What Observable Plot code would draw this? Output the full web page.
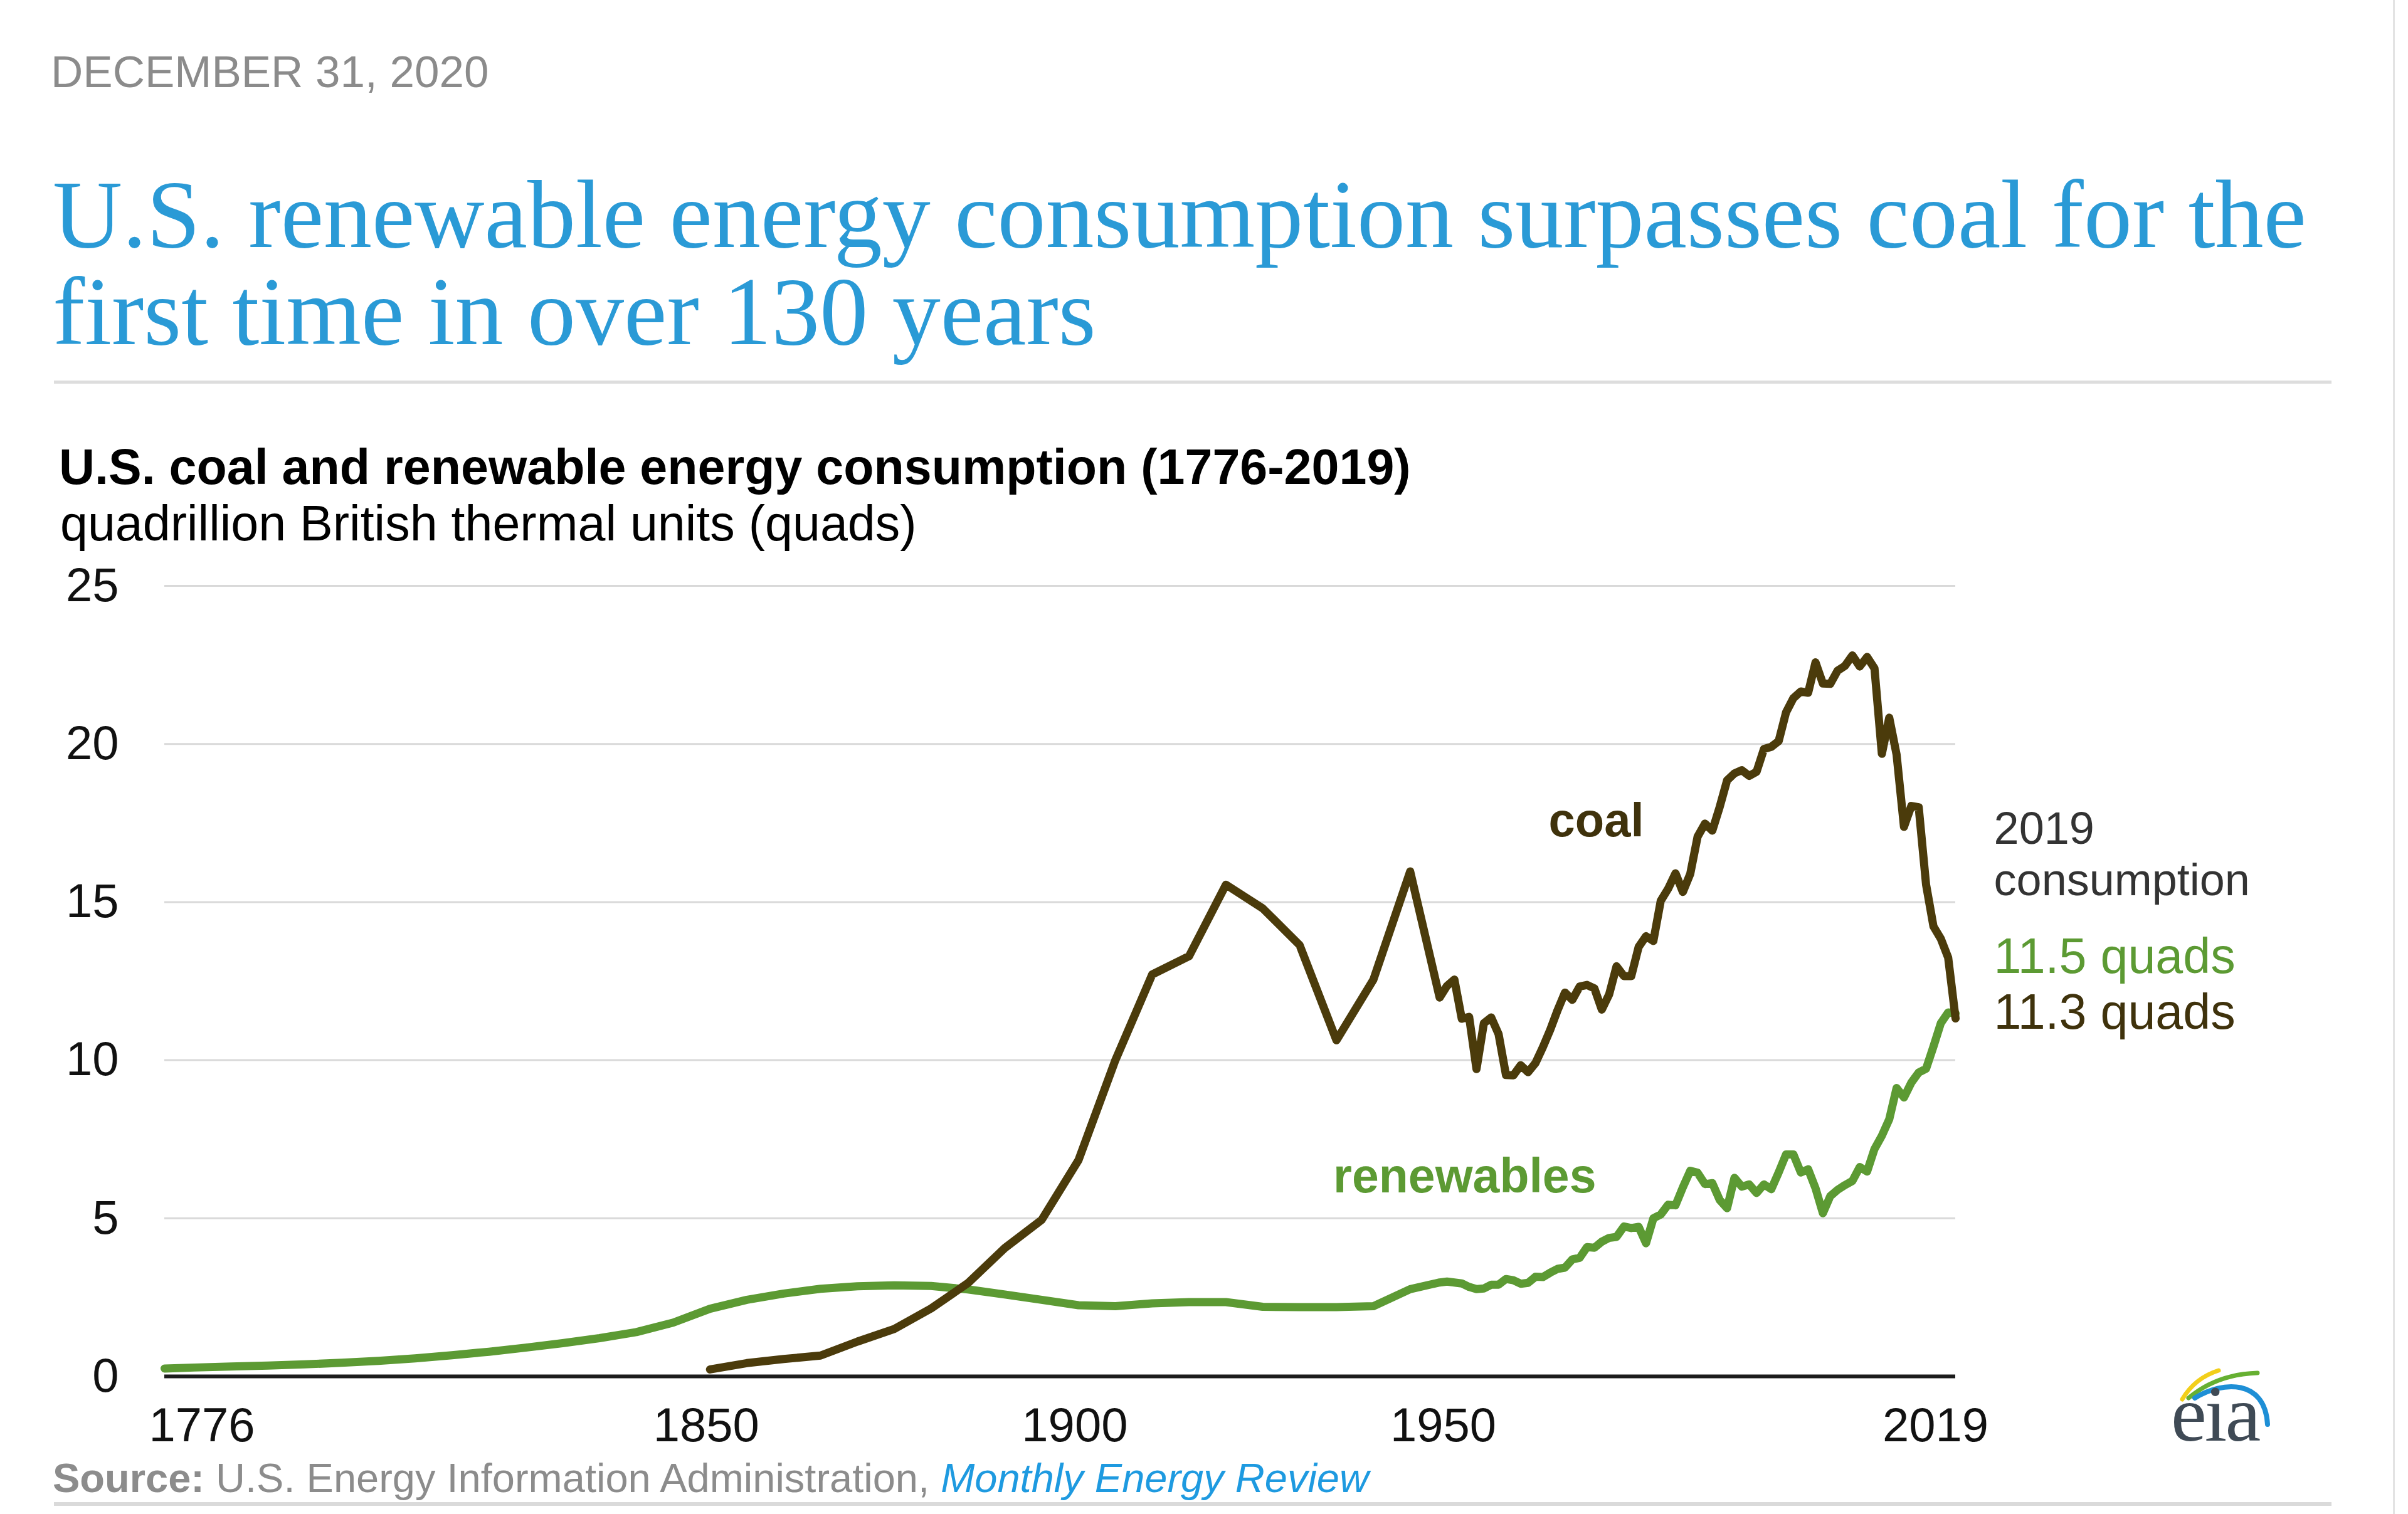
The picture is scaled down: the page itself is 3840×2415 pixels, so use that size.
<!DOCTYPE html>
<html>
<head>
<meta charset="utf-8">
<script src="https://cdn.jsdelivr.net/npm/d3@7"></script>
<script src="https://cdn.jsdelivr.net/npm/@observablehq/plot@0.6"></script>
<style>
  html, body { margin: 0; padding: 0; background: #ffffff; }
  #page { position: relative; width: 3840px; height: 2415px; overflow: hidden; background: #ffffff;
          font-family: "Liberation Sans", Arial, Helvetica, sans-serif; }
  .abs { position: absolute; white-space: nowrap; line-height: 1; }
  #date { left: 81px; top: 79px; font-size: 71px; color: #8b8b8b; }
  #title { left: 84px; top: 265px; font-family: "Liberation Serif", "Times New Roman", serif; font-size: 154px;
           line-height: 155px; color: #2a9ad6; }
  #rule1 { left: 86px; top: 607px; width: 3632px; height: 5px; background: #dddddd; }
  #ctitle { left: 94px; top: 705px; font-size: 79px; font-weight: bold; color: #000; }
  #csub { left: 96px; top: 795px; font-size: 79px; color: #000; }
  #chart { position: absolute; left: 0px; top: 880px; }
  #source { left: 84px; top: 2325px; font-size: 65px; color: #8c8c8c; }
  #source b { color: #8c8c8c; }
  #source i { color: #1e9ae0; }
  #rule2 { left: 86px; top: 2396px; width: 3632px; height: 6px; background: #dadada; }
  #vrule { left: 3816px; top: 0px; width: 3px; height: 2415px; background: #e3e3e3; }
  #logo { position: absolute; left: 3440px; top: 2160px; overflow: visible; }
</style>
</head>
<body>
<div id="page">
  <div id="date" class="abs">DECEMBER 31, 2020</div>
  <div id="title" class="abs">U.S. renewable energy consumption surpasses coal for the<br>first time in over 130 years</div>
  <div id="rule1" class="abs"></div>
  <div id="ctitle" class="abs">U.S. coal and renewable energy consumption (1776-2019)</div>
  <div id="csub" class="abs">quadrillion British thermal units (quads)</div>
  <div id="chart"></div>
  <div id="source" class="abs"><b>Source:</b> U.S. Energy Information Administration, <i>Monthly Energy Review</i></div>
  <div id="rule2" class="abs"></div>
  <div id="vrule" class="abs"></div>
  <svg id="logo" width="230" height="200" viewBox="0 0 230 200">
    <path d="M40,72 Q60,38 98,26" fill="none" stroke="#f2cf1a" stroke-width="7" stroke-linecap="round"/>
    <path d="M50,70 Q95,32 160,30" fill="none" stroke="#66b032" stroke-width="7" stroke-linecap="round"/>
    <path d="M60,70 C105,42 172,40 176,112" fill="none" stroke="#1e8fd6" stroke-width="8" stroke-linecap="round"/>
    <text x="22" y="138" font-family="Liberation Serif, Times New Roman, serif" font-size="128" fill="#3f4a55" letter-spacing="-3">eia</text>
  </svg>
</div>
<script>
// ---- data (quadrillion Btu) ----
const coalYears = [1850,1855,1860,1865,1870,1875,1880,1885,1890,1895,1900,1905,1910,1915,1920,1925,1930,1935,1940,1945,
  1949,1950,1951,1952,1953,1954,1955,1956,1957,1958,1959,1960,1961,1962,1963,1964,1965,1966,1967,1968,1969,
  1970,1971,1972,1973,1974,1975,1976,1977,1978,1979,1980,1981,1982,1983,1984,1985,1986,1987,1988,1989,
  1990,1991,1992,1993,1994,1995,1996,1997,1998,1999,2000,2001,2002,2003,2004,2005,2006,2007,2008,2009,
  2010,2011,2012,2013,2014,2015,2016,2017,2018,2019];
const coalValues = [0.22,0.42,0.55,0.66,1.10,1.50,2.15,2.95,4.06,4.95,6.84,10.00,12.71,13.29,15.55,14.80,13.64,10.63,12.54,15.97,
  11.98,12.35,12.55,11.31,11.37,9.72,11.17,11.35,10.82,9.53,9.52,9.84,9.62,9.91,10.41,10.96,11.58,12.14,11.91,12.33,12.38,
  12.27,11.60,12.08,12.97,12.66,12.66,13.58,13.92,13.77,15.04,15.42,15.91,15.32,15.89,17.07,17.48,17.26,18.01,18.85,19.07,
  19.17,18.99,19.12,19.84,19.91,20.09,21.00,21.45,21.66,21.62,22.58,21.91,21.90,22.32,22.47,22.80,22.45,22.75,22.39,19.69,
  20.83,19.66,17.38,18.04,18.00,15.55,14.23,13.84,13.24,11.32];

const renewYears = [1776,1780,1785,1790,1795,1800,1805,1810,1815,1820,1825,1830,1835,1840,1845,1850,1855,1860,1865,1870,
  1875,1880,1885,1890,1895,1900,1905,1910,1915,1920,1925,1930,1935,1940,1945,
  1949,1950,1951,1952,1953,1954,1955,1956,1957,1958,1959,1960,1961,1962,1963,1964,1965,1966,1967,1968,1969,
  1970,1971,1972,1973,1974,1975,1976,1977,1978,1979,1980,1981,1982,1983,1984,1985,1986,1987,1988,1989,
  1990,1991,1992,1993,1994,1995,1996,1997,1998,1999,2000,2001,2002,2003,2004,2005,2006,2007,2008,2009,
  2010,2011,2012,2013,2014,2015,2016,2017,2018,2019];
const renewValues = [0.25,0.28,0.31,0.34,0.38,0.43,0.49,0.57,0.67,0.78,0.91,1.05,1.21,1.40,1.70,2.14,2.42,2.62,2.77,2.85,
  2.88,2.86,2.75,2.59,2.42,2.25,2.22,2.31,2.35,2.35,2.20,2.19,2.19,2.22,2.76,
  2.97,3.00,2.97,2.94,2.83,2.76,2.78,2.90,2.90,3.08,3.04,2.93,2.96,3.15,3.14,3.28,3.40,3.44,3.70,3.75,4.09,
  4.07,4.26,4.38,4.41,4.74,4.69,4.73,4.21,5.00,5.12,5.43,5.41,5.98,6.50,6.44,6.08,6.11,5.58,5.32,6.28,
  6.00,6.07,5.80,6.07,5.92,6.45,7.02,7.02,6.45,6.55,5.95,5.16,5.70,5.90,6.05,6.18,6.62,6.48,7.19,7.61,
  8.13,9.12,8.82,9.29,9.61,9.73,10.43,11.17,11.51,11.48];

const yTicks = [0, 5, 10, 15, 20, 25];
const xTickLabels = [1776, 1850, 1900, 1950, 2019];

const coal = coalYears.map((year, i) => ({year, value: coalValues[i]}));
const renew = renewYears.map((year, i) => ({year, value: renewValues[i]}));

const COAL = "#4b3b0b";
const COAL_TEXT = "#3f320c";
const GREEN = "#5c9a33";
const FONT = "Liberation Sans, Arial, Helvetica, sans-serif";

const chart = Plot.plot({
  width: 3840,
  height: 1460,
  marginLeft: 262,
  marginRight: 722,
  marginTop: 54,
  marginBottom: 145,
  style: {fontFamily: FONT, fontSize: "76px", color: "#111", background: "transparent", overflow: "visible"},
  x: {domain: [1776, 2019], axis: null},
  y: {domain: [0, 25], axis: null},
  marks: [
    Plot.ruleY(yTicks.filter(d => d > 0), {stroke: "#d9d9d9", strokeWidth: 3}),
    Plot.ruleY([0], {stroke: "#1c1c1c", strokeWidth: 6}),
    Plot.text(yTicks, {y: d => d, frameAnchor: "left", dx: -73, textAnchor: "end", text: d => String(d),
      fontSize: 76, fill: "#111"}),
    Plot.text(xTickLabels.filter(d => d === 1776), {x: d => d, frameAnchor: "bottom", dy: 50, dx: -25,
      lineAnchor: "top", textAnchor: "start", text: d => String(d), fontSize: 76, fill: "#111"}),
    Plot.text(xTickLabels.filter(d => d > 1776 && d < 2019), {x: d => d, frameAnchor: "bottom", dy: 50, dx: -6,
      lineAnchor: "top", textAnchor: "middle", text: d => String(d), fontSize: 76, fill: "#111"}),
    Plot.text(xTickLabels.filter(d => d === 2019), {x: d => d, frameAnchor: "bottom", dy: 50, dx: -32,
      lineAnchor: "top", textAnchor: "middle", text: d => String(d), fontSize: 76, fill: "#111"}),
    Plot.line(renew, {x: "year", y: "value", stroke: GREEN, strokeWidth: 13, strokeLinejoin: "round", strokeLinecap: "round"}),
    Plot.line(coal, {x: "year", y: "value", stroke: COAL, strokeWidth: 13, strokeLinejoin: "round", strokeLinecap: "round"}),
    Plot.text(["coal"], {x: 1970.25, y: 17.07, text: d => d, lineAnchor: "bottom", textAnchor: "middle",
      fontSize: 76, fontWeight: "bold", fill: COAL_TEXT}),
    Plot.text(["renewables"], {x: 1952.4, y: 5.81, text: d => d, lineAnchor: "bottom", textAnchor: "middle",
      fontSize: 77, fontWeight: "bold", fill: GREEN}),
    Plot.text(["2019"], {x: 2024.2, y: 16.85, text: d => d, lineAnchor: "bottom", textAnchor: "start",
      fontSize: 72, fill: "#333"}),
    Plot.text(["consumption"], {x: 2024.2, y: 15.21, text: d => d, lineAnchor: "bottom", textAnchor: "start",
      fontSize: 72, fill: "#333"}),
    Plot.text(["11.5 quads"], {x: 2024.2, y: 12.75, text: d => d, lineAnchor: "bottom", textAnchor: "start",
      fontSize: 79, fill: GREEN}),
    Plot.text(["11.3 quads"], {x: 2024.2, y: 11.0, text: d => d, lineAnchor: "bottom", textAnchor: "start",
      fontSize: 79, fill: COAL_TEXT})
  ]
});
document.getElementById("chart").appendChild(chart);
</script>
</body>
</html>
